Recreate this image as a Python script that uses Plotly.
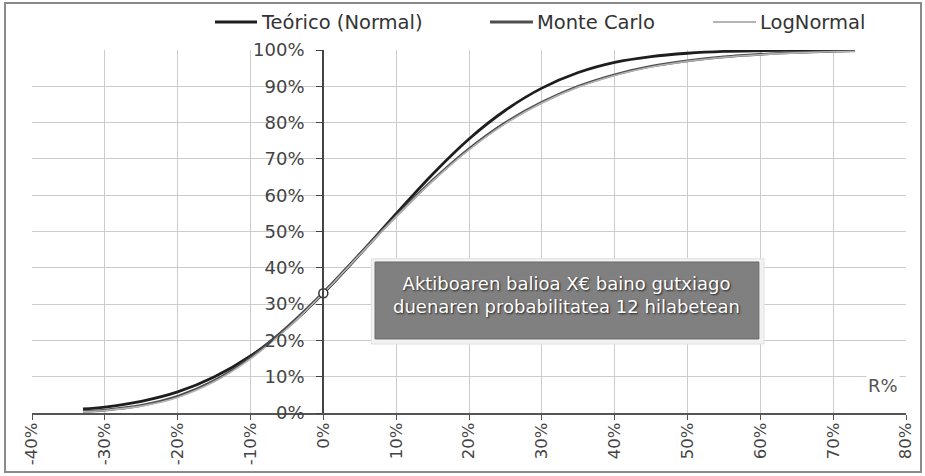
import plotly.graph_objects as go

# Return R (fraction) and cumulative probabilities for each model
R = [-0.33, -0.30, -0.25, -0.20, -0.15, -0.10, -0.05, 0.00, 0.05, 0.10, 0.15, 0.20,
     0.25, 0.30, 0.35, 0.40, 0.45, 0.50, 0.55, 0.60, 0.65, 0.70, 0.73]
teorico = [0.011, 0.016, 0.032, 0.058, 0.099, 0.157, 0.235, 0.330, 0.437, 0.549, 0.658, 0.755,
           0.834, 0.895, 0.938, 0.966, 0.982, 0.991, 0.996, 0.998, 0.999, 1.000, 1.000]
monte_carlo = [0.004, 0.008, 0.021, 0.046, 0.089, 0.152, 0.236, 0.332, 0.438, 0.543, 0.641, 0.728,
               0.800, 0.856, 0.900, 0.932, 0.955, 0.970, 0.981, 0.988, 0.993, 0.996, 0.998]
lognormal = [0.003, 0.007, 0.019, 0.043, 0.086, 0.149, 0.232, 0.330, 0.436, 0.541, 0.639, 0.725,
             0.797, 0.854, 0.898, 0.930, 0.953, 0.969, 0.980, 0.987, 0.992, 0.995, 0.996]

x_ticks = [-0.4, -0.3, -0.2, -0.1, 0.0, 0.1, 0.2, 0.3, 0.4, 0.5, 0.6, 0.7, 0.8]
x_tick_labels = ["-40%", "-30%", "-20%", "-10%", "0%", "10%", "20%", "30%", "40%",
                 "50%", "60%", "70%", "80%"]
y_ticks = [0.0, 0.1, 0.2, 0.3, 0.4, 0.5, 0.6, 0.7, 0.8, 0.9, 1.0]

series_names = ["Teórico (Normal)", "Monte Carlo", "LogNormal"]
series_colors = ["#1e1e1e", "#4e4e4e", "#b4b4b4"]
series_widths = [2.8, 2.6, 1.6]

FONT = "DejaVu Sans, sans-serif"
TXT = "#444444"

# Plot-area geometry (pixels) used to place items outside the axes
W, H = 925, 476
ML, MR, MT, MB = 32, 19, 50, 63
PW, PH = W - ML - MR, H - MT - MB


def px_x(p):
    return (p - ML) / PW


def px_y(p):
    return (H - MB - p) / PH


fig = go.Figure()
for name, ys, col, wd in zip(series_names, [teorico, monte_carlo, lognormal],
                             series_colors, series_widths):
    fig.add_trace(go.Scatter(x=R, y=ys, mode="lines", name=name, showlegend=False,
                             line=dict(color=col, width=wd, shape="spline")))

# Highlighted point: theoretical probability at R = 0
i0 = R.index(0.0)
fig.add_trace(go.Scatter(x=[R[i0]], y=[teorico[i0]], mode="markers", showlegend=False,
                         marker=dict(size=9, color="white", line=dict(color="#333333", width=1.5))))

# Legend row drawn above the plot area
legend_line_x = [(215, 257), (490, 533), (713, 756)]
legend_y = px_y(22)
for (a, b), name, col, wd in zip(legend_line_x, series_names, series_colors, series_widths):
    fig.add_shape(type="line", xref="paper", yref="paper", x0=px_x(a), x1=px_x(b),
                  y0=legend_y, y1=legend_y, line=dict(color=col, width=wd + 0.4))
    fig.add_annotation(xref="paper", yref="paper", x=px_x(b + 2), y=legend_y,
                       xanchor="left", yanchor="middle", showarrow=False, text=name,
                       font=dict(family=FONT, size=19.5, color="#333333"))

# Callout box
bx0, bx1, by0, by1 = 0.071, 0.598, 0.204, 0.416
fig.add_shape(type="rect", x0=bx0 - 0.005, x1=bx1 + 0.007, y0=by0 - 0.014, y1=by1 + 0.009,
              xref="x", yref="y", fillcolor="#f2f2f2", line=dict(color="#e0e0e0", width=1),
              layer="above")
fig.add_shape(type="rect", x0=bx0, x1=bx1, y0=by0, y1=by1, xref="x", yref="y",
              fillcolor="#808080", line=dict(color="#686868", width=1), layer="above")
fig.add_annotation(x=(bx0 + bx1) / 2, y=px_y(294.5), xref="x", yref="paper", showarrow=False,
                   text="Aktiboaren balioa X€ baino gutxiago<br>duenaren probabilitatea 12 hilabetean",
                   font=dict(family=FONT, size=18, color="white", shadow="1px 1px 2px #222222"),
                   align="center", yanchor="middle")

# Axis title near the right end
fig.add_annotation(x=px_x(883), y=px_y(385), xref="paper", yref="paper", showarrow=False,
                   xanchor="center", yanchor="middle",
                   text="R%", font=dict(family=FONT, size=18, color="#555555"), bgcolor="white")

# Outer frame
fig.add_shape(type="rect", xref="paper", yref="paper", x0=px_x(5), x1=px_x(921),
              y0=px_y(472), y1=px_y(3),
              line=dict(color="#8a8a8a", width=2), fillcolor="rgba(0,0,0,0)")

fig.update_xaxes(range=[-0.4, 0.8], tickvals=x_ticks, ticktext=x_tick_labels, tickangle=-90,
                 showgrid=True, gridcolor="#cccccc", gridwidth=1,
                 showline=True, linecolor="#555555", linewidth=2,
                 ticks="outside", ticklen=5, tickcolor="#555555", ticklabelstandoff=-4,
                 tickfont=dict(family=FONT, size=16.5, color=TXT), zeroline=False)
fig.update_yaxes(range=[0, 1.0], tickvals=y_ticks, tickformat=".0%",
                 anchor="free", position=px_x(323),
                 showgrid=True, gridcolor="#cccccc", gridwidth=1,
                 showline=True, linecolor="#444444", linewidth=1.8,
                 ticks="outside", ticklen=6, tickcolor="#444444", ticklabelstandoff=8,
                 tickfont=dict(family=FONT, size=18, color=TXT), zeroline=False)

fig.update_layout(
    width=W, height=H,
    margin=dict(l=ML, r=MR, t=MT, b=MB, autoexpand=False),
    paper_bgcolor="white", plot_bgcolor="white",
    showlegend=False,
)

fig.write_html("out.html")
